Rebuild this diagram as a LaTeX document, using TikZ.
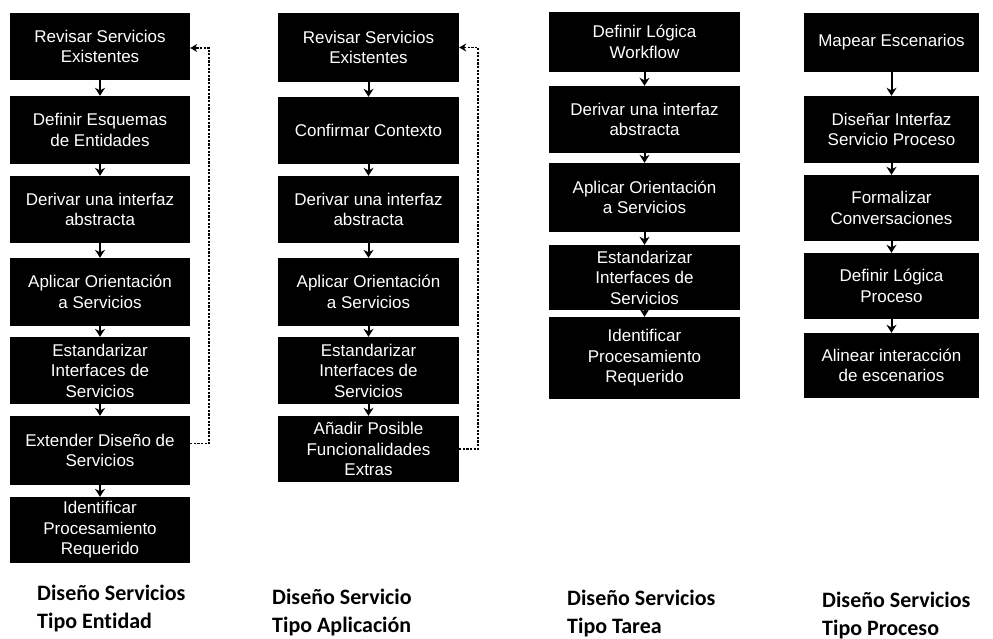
\documentclass[tikz,border=0pt]{standalone}
\usepackage{fontspec}
\setmainfont{Liberation Sans}
\newfontfamily\labfont[Ligatures=NoCommon]{Carlito}
\usetikzlibrary{arrows.meta}
\tikzset{
  box/.style={fill=black, text=white, inner sep=2pt, align=center,
    font=\fontsize{17}{20.5}\selectfont},
  colA/.style={box, minimum width=180pt},
  colB/.style={box, minimum width=181pt},
  colC/.style={box, minimum width=191pt},
  colD/.style={box, minimum width=175pt},
  flow/.style={-{Stealth[length=8pt,width=10pt]}, line width=2pt},
  fback/.style={dash pattern=on 2.2pt off 1.4pt, line width=1.2pt, -{Stealth[length=7pt,width=8pt]}},
  lab/.style={font=\labfont\bfseries\fontsize{22}{28}\selectfont, align=left, inner sep=0pt}
}
\begin{document}
\begin{tikzpicture}[x=1pt,y=-1pt]
\useasboundingbox[fill=white] (0,0) rectangle (993,639);
% Column 1
\node[colA, minimum height=67] (a1) at (100,46.5) {Revisar Servicios\\Existentes};
\node[colA, minimum height=68] (a2) at (100,130) {Definir Esquemas\\de Entidades};
\node[colA, minimum height=67] (a3) at (100,209.5) {Derivar una interfaz\\abstracta};
\node[colA, minimum height=68] (a4) at (100,292) {Aplicar Orientación\\a Servicios};
\node[colA, minimum height=67] (a5) at (100,370.5) {Estandarizar\\Interfaces de\\Servicios};
\node[colA, minimum height=69] (a6) at (100,450.5) {Extender Diseño de\\Servicios};
\node[colA, minimum height=66] (a7) at (100,530) {Identificar\\Procesamiento\\Requerido};
\foreach \i/\j in {a1/a2,a2/a3,a3/a4,a4/a5,a5/a6,a6/a7} \draw[flow] (\i) -- (\j);
\coordinate (la) at (209,0);
\draw[fback] ([yshift=7pt]a6.east) -- ([yshift=7pt]a6.east -| la) -- ([yshift=-1.5pt]a1.east -| la) -- ([yshift=-1.5pt]a1.east);
% Column 2
\node[colB, minimum height=69] (b1) at (368.5,47.5) {Revisar Servicios\\Existentes};
\node[colB, minimum height=67] (b2) at (368.5,130.5) {Confirmar Contexto};
\node[colB, minimum height=67] (b3) at (368.5,209.5) {Derivar una interfaz\\abstracta};
\node[colB, minimum height=68] (b4) at (368.5,292) {Aplicar Orientación\\a Servicios};
\node[colB, minimum height=67] (b5) at (368.5,370.5) {Estandarizar\\Interfaces de\\Servicios};
\node[colB, minimum height=66] (b6) at (368.5,449) {Añadir Posible\\Funcionalidades\\Extras};
\foreach \i/\j in {b1/b2,b2/b3,b3/b4,b4/b5,b5/b6} \draw[flow] (\i) -- (\j);
\coordinate (lb) at (478,0);
\draw[fback] (b6.east) -- (b6.east -| lb) -- (b1.east -| lb) -- (b1.east);
% Column 3
\node[colC, minimum height=60] (c1) at (644.5,42) {Definir Lógica\\Workflow};
\node[colC, minimum height=67] (c2) at (644.5,119.5) {Derivar una interfaz\\abstracta};
\node[colC, minimum height=69] (c3) at (644.5,197.5) {Aplicar Orientación\\a Servicios};
\node[colC, minimum height=65] (c4) at (644.5,277.5) {Estandarizar\\Interfaces de\\Servicios};
\node[colC, minimum height=82] (c5) at (644.5,358) {Identificar\\Procesamiento\\Requerido};
\foreach \i/\j in {c1/c2,c2/c3,c3/c4,c4/c5} \draw[flow] (\i) -- (\j);
% Column 4
\node[colD, minimum height=59] (d1) at (891.5,42.5) {Mapear Escenarios};
\node[colD, minimum height=67] (d2) at (891.5,129.5) {Diseñar Interfaz\\Servicio Proceso};
\node[colD, minimum height=66] (d3) at (891.5,208) {Formalizar\\Conversaciones};
\node[colD, minimum height=66] (d4) at (891.5,286) {Definir Lógica\\Proceso};
\node[colD, minimum height=65] (d5) at (891.5,365.5) {Alinear interacción\\de escenarios};
\foreach \i/\j in {d1/d2,d2/d3,d3/d4,d4/d5} \draw[flow] (\i) -- (\j);
% Labels (base anchor = baseline of the last line)
\node[lab, anchor=base west] (t1) at (37,628) {Diseño Servicios\\Tipo Entidad};
\node[lab, anchor=base west] (t2) at (272,632) {Diseño Servicio\\Tipo Aplicación};
\node[lab, anchor=base west] (t3) at (567,633) {Diseño Servicios\\Tipo Tarea};
\node[lab, anchor=base west] (t4) at (822,635) {Diseño Servicios\\Tipo Proceso};
\end{tikzpicture}
\end{document}
